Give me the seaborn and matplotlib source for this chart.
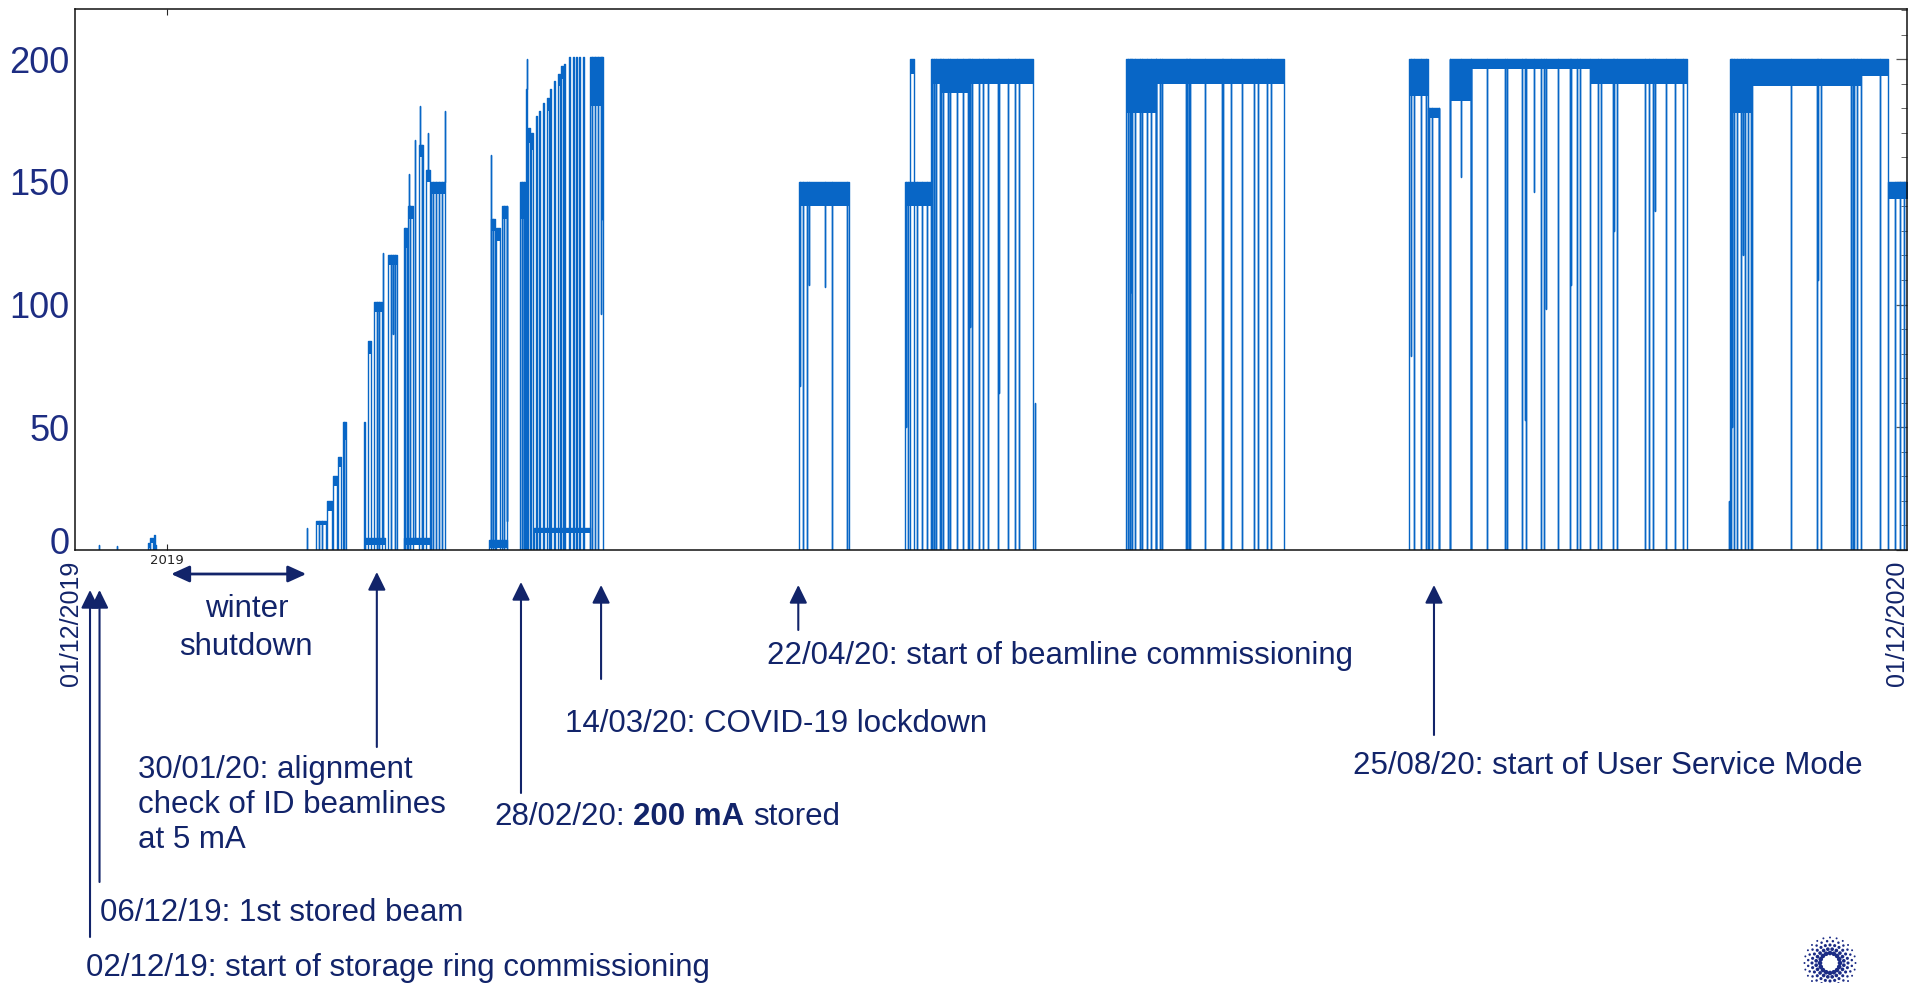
import numpy as np
import pandas as pd
import matplotlib
matplotlib.use("Agg")
import matplotlib.pyplot as plt
import matplotlib.dates as mdates
import matplotlib.transforms as mtransforms
from matplotlib.ticker import MultipleLocator, NullLocator
import seaborn as sns

# ---------------- data ----------------
T0 = pd.Timestamp("2019-12-01")
T1 = pd.Timestamp("2020-12-01")

# beam runs: start / end (days after 01/12/2019), top current, lower envelope of decay band (mA)
run_start = [14.5, 15.0, 15.7, 16.0,
             48.2, 50.4, 51.5, 52.6, 53.5,
             57.7, 58.6, 59.8, 62.6, 65.7, 66.6, 68.8, 70.1, 71.1, 83.2, 84.2, 85.3,
             88.9, 90.1, 90.5, 91.2, 92.0, 92.6, 93.4, 94.3, 94.8, 95.6, 96.5, 97.1, 97.6,
             98.6, 99.4, 100.0, 100.6, 101.4, 102.8,
             144.7, 166.8, 165.9, 171.0, 173.0, 178.4, 210.0, 216.0,
             266.6, 270.4, 274.6, 278.8, 302.7, 330.7, 335.0, 356.8, 362.2,
             57.9, 65.7, 82.7, 91.6]
run_end = [15.0, 15.6, 15.9, 16.2,
           50.1, 51.3, 52.3, 53.2, 54.1,
           58.0, 59.1, 61.3, 64.4, 66.3, 67.5, 69.6, 71.0, 74.0, 84.0, 85.0, 86.4,
           90.0, 90.4, 91.0, 91.5, 92.3, 92.9, 93.7, 94.6, 95.1, 95.9, 96.8, 97.4, 97.9,
           98.9, 99.7, 100.3, 100.9, 101.7, 105.4,
           154.6, 167.6, 171.0, 173.0, 178.4, 191.3, 216.0, 241.5,
           270.4, 272.6, 278.8, 302.7, 322.1, 335.0, 356.8, 362.2, 366.5,
           62.0, 71.0, 86.4, 102.8]
run_top = [3, 5, 6, 2,
           12, 20, 30, 38, 52,
           52, 85, 101, 120, 131, 140, 165, 155, 150, 135, 131, 140,
           150, 188, 172, 170, 177, 179, 182, 184, 188, 191, 194, 197, 198,
           201, 201, 201, 201, 201, 201,
           150, 200, 150, 200, 200, 200, 200, 200,
           200, 180, 200, 200, 200, 200, 200, 200, 150,
           5, 5, 4, 9]
run_low = [1, 3, 0, 0,
           10, 16, 26, 34, 45,
           48, 80, 97, 116, 123, 135, 160, 150, 145, 130, 126, 135,
           135, 175, 166, 163, 172, 174, 177, 179, 183, 186, 189, 192, 193,
           196, 196, 196, 196, 196, 181,
           140, 194, 140, 190, 186, 190, 178, 190,
           185, 176, 183, 196, 190, 178, 189, 193, 143,
           2, 2, 1, 7]

# excursions: beam losses (to 0 mA), partial dips and short spikes (day, mA)
exc_day = [4.8, 8.4, 46.4, 48.7, 49.4, 53.8,
           60.3, 60.8, 61.55, 63.1, 63.6, 64.0, 66.0, 66.7, 67.0, 67.95, 69.0, 69.3, 70.5,
           71.6, 72.2, 72.8, 73.4, 73.95, 83.05, 83.6, 85.8, 86.3, 89.3, 89.7, 90.3,
           103.3, 103.8, 104.4, 105.1, 105.3,
           144.9, 145.4, 146.3, 146.7, 149.9, 151.2, 154.3,
           166.0, 166.5, 168.2, 169.2, 170.3,
           171.25, 171.7, 172.1, 172.8, 173.5, 174.4, 174.8, 176.2, 177.5, 178.7, 178.9, 179.3,
           180.6, 181.5, 182.4, 184.4, 184.6, 186.4, 187.8, 188.6, 191.7,
           210.3, 210.7, 211.0, 211.2, 211.8, 212.7, 213.2, 214.1, 215.0, 215.9, 216.7, 217.2,
           221.9, 222.2, 222.5, 222.8, 225.7, 229.1, 229.4, 231.0, 233.2, 235.5, 236.4, 238.1, 239.0,
           266.9, 267.5, 268.9, 269.9, 270.5, 271.2, 272.5,
           274.7, 276.8, 278.9, 282.0, 285.7, 286.1, 289.1, 289.6, 289.8, 291.5, 292.8, 293.4, 293.8,
           296.3, 298.6, 298.8, 300.0, 300.6, 304.2, 304.9, 307.2, 307.4, 308.1, 313.6, 314.5, 315.3,
           315.6, 317.8, 319.6, 321.3,
           330.4, 330.8, 331.1, 331.5, 332.1, 332.8, 333.2, 333.7, 334.2, 334.9,
           342.8, 348.0, 348.3, 348.9, 354.9, 355.2, 355.4, 356.1, 360.7,
           363.6, 364.7, 365.5]
exc_val = [2, 1.5, 9, 0, 0, 0,
           0, 0, 121, 0, 88, 0, 0, 153, 0, 167, 181, 0, 170,
           0, 0, 0, 0, 179, 161, 0, 0, 12, 0, 0, 200,
           0, 0, 0, 96, 135,
           67, 0, 0, 108, 107, 0, 0,
           50, 0, 0, 0, 0,
           0, 0, 0, 0, 0, 0, 0, 0, 0, 0, 91, 0,
           0, 0, 0, 0, 64, 0, 0, 0, 60,
           0, 0, 105, 0, 0, 0, 0, 0, 0, 0, 0, 0,
           0, 0, 0, 0, 0, 0, 0, 0, 0, 0, 0, 0, 0,
           79, 0, 0, 0, 0, 0, 0,
           0, 152, 0, 0, 0, 0, 0, 53, 0, 146, 0, 0, 98,
           0, 0, 108, 0, 0, 0, 0, 0, 130, 0, 0, 0, 0,
           138, 0, 0, 0,
           20, 0, 50, 0, 0, 0, 120, 0, 0, 0,
           0, 0, 110, 0, 0, 0, 0, 0, 0,
           0, 0, 0]

y_ticks = [0, 50, 100, 150, 200]
y_labels = ["0", "50", "100", "150", "200"]
x_tick_day = [18.4]
x_tick_labels = ["2019"]

# annotations
arrow_day = [3.0, 4.9, 60.3, 89.1, 105.1, 144.5, 271.5]
arrow_tip_px = [590, 590, 572, 582, 585, 585, 585]
arrow_tail_px = [937, 882, 747, 793, 679, 630, 735]
shutdown_days = [19.2, 46.2]

BLUE = "#0866c6"
NAVY = "#12246a"
NAVY2 = "#1d2d82"

# ---------------- build the trace ----------------
def ts(d):
    return T0 + pd.to_timedelta(d, unit="D")

used = [False] * len(exc_day)
rows = []
unit = 0
for s, e, top, low in zip(run_start, run_end, run_top, run_low):
    ev = []
    for j, (t, v) in enumerate(zip(exc_day, exc_val)):
        if not used[j] and s < t < e:
            used[j] = True
            ev.append((t, v))
    ev.sort()
    pts = [(s, 0), (s, top)]
    for t, v in ev:
        pts += [(t, top), (t, v), (t, top)]
    pts += [(e, top), (e, 0)]
    for d, c in pts:
        rows.append((ts(d), c, unit))
    unit += 1
for j, (t, v) in enumerate(zip(exc_day, exc_val)):
    if not used[j]:
        for d, c in [(t, 0), (t, v), (t, 0)]:
            rows.append((ts(d), c, unit))
        unit += 1
df = pd.DataFrame(rows, columns=["time", "current", "unit"])

# ---------------- figure ----------------
sns.set_style("white")
plt.rcParams["font.family"] = ["Liberation Sans", "DejaVu Sans"]

W, H = 1912, 983
fig = plt.figure(figsize=(W / 100, H / 100), dpi=100)
fx = lambda px: px / W
fy = lambda py: 1 - py / H
ax = fig.add_axes([fx(75), fy(550), 1832 / W, 541 / H])

sns.lineplot(data=df, x="time", y="current", units="unit", estimator=None,
             sort=False, color=BLUE, lw=1.0, ax=ax, legend=False)
for s, e, top, low in zip(run_start, run_end, run_top, run_low):
    xs = mdates.date2num([ts(s), ts(e)])
    ax.fill_between(xs, [low, low], [top, top], color=BLUE, lw=0)

ax.set_xlim(mdates.date2num(T0), mdates.date2num(T1))
ax.set_ylim(0, 220.4)
ax.set_xlabel("")
ax.set_ylabel("")

for sp in ax.spines.values():
    sp.set_visible(True)
    sp.set_color("#111111")
    sp.set_linewidth(1.1)
    sp.set_zorder(5)

ax.set_xticks(mdates.date2num([ts(d) for d in x_tick_day]))
ax.set_xticklabels(x_tick_labels, fontfamily="DejaVu Sans")
ax.xaxis.set_minor_locator(NullLocator())
ax.tick_params(axis="x", which="major", direction="in", top=True, bottom=True,
               length=4, width=0.8, labelsize=9.5, pad=3, labelcolor="#222222")

ax.set_yticks(y_ticks)
ax.set_yticklabels(y_labels)
ax.yaxis.set_minor_locator(MultipleLocator(10))
ax.tick_params(axis="y", which="major", left=False, right=True, labelleft=True,
               direction="in", length=8, width=0.9, color="#555555",
               labelsize=26, labelcolor=NAVY2, pad=4)
ax.tick_params(axis="y", which="minor", left=False, right=True,
               direction="in", length=4, width=0.7, color="#666666")
lab0 = ax.get_yticklabels()[0]
lab0.set_transform(lab0.get_transform() +
                   mtransforms.ScaledTranslation(0, 10 / 100, fig.dpi_scale_trans))

# ---------------- annotations ----------------
trans = mtransforms.blended_transform_factory(ax.transData, fig.transFigure)
for d, ytip, ytail in zip(arrow_day, arrow_tip_px, arrow_tail_px):
    xn = mdates.date2num(ts(d))
    ax.annotate("", xy=(xn, fy(ytip)), xycoords=trans, xytext=(xn, fy(ytail)),
                textcoords=trans, annotation_clip=False,
                arrowprops=dict(arrowstyle="-|>,head_length=0.55,head_width=0.27",
                                mutation_scale=20, lw=1.5, color=NAVY,
                                shrinkA=0, shrinkB=0))
x0, x1 = mdates.date2num([ts(d) for d in shutdown_days])
ax.annotate("", xy=(x1, fy(574)), xycoords=trans, xytext=(x0, fy(574)),
            textcoords=trans, annotation_clip=False,
            arrowprops=dict(arrowstyle="<|-|>,head_length=0.55,head_width=0.25",
                            mutation_scale=20, lw=2.0, color=NAVY,
                            shrinkA=0, shrinkB=0))

FS = 22.5
def label(px, py, s, **kw):
    opts = dict(ha="left", va="center", fontsize=FS, color=NAVY)
    opts.update(kw)
    return fig.text(fx(px), fy(py), s, **opts)

label(247, 609, "winter", ha="center")
label(246, 647, "shutdown", ha="center")
label(138, 805, "30/01/20: alignment\ncheck of ID beamlines\nat 5 mA", linespacing=1.22)
label(100, 913, "06/12/19: 1st stored beam")
label(86, 968, "02/12/19: start of storage ring commissioning")
label(565, 724, "14/03/20: COVID-19 lockdown")
label(767, 656, "22/04/20: start of beamline commissioning")
label(1353, 766, "25/08/20: start of User Service Mode")

t1 = label(494, 817, "28/02/20:")
fig.canvas.draw()
r = fig.canvas.get_renderer()
bb = t1.get_window_extent(r)
sp = FS / 72 * 100 * 0.278
t2 = fig.text(bb.x1 + sp, bb.y0 + bb.height / 2, "200 mA", transform=None,
              ha="left", va="center", fontsize=FS, color=NAVY, fontweight="bold")
bb2 = t2.get_window_extent(r)
fig.text(bb2.x1 + sp, bb.y0 + bb.height / 2, "stored", transform=None,
         ha="left", va="center", fontsize=FS, color=NAVY)

fig.text(fx(71), fy(561), "01/12/2019", rotation=90, ha="center", va="top",
         fontsize=18, color=NAVY)
fig.text(fx(1897), fy(561), "01/12/2020", rotation=90, ha="center", va="top",
         fontsize=18, color=NAVY)

# ---------------- logo ----------------
lax = fig.add_axes([fx(1800), fy(993), 60 / W, 60 / H])
lax.set_xlim(-30, 30)
lax.set_ylim(-30, 30)
lax.set_aspect("equal")
lax.axis("off")
ring_r = [10.0, 14.0, 18.0, 22.0, 25.5]
ring_s = [11, 7, 5, 3.2, 2.0]
ring_n = [16, 20, 24, 24, 24]
for k, (rr, ss, nn) in enumerate(zip(ring_r, ring_s, ring_n)):
    ang = np.linspace(0, 2 * np.pi, nn, endpoint=False) + (np.pi / nn if k % 2 else 0)
    sns.scatterplot(x=rr * np.cos(ang), y=rr * np.sin(ang), s=ss, color="#1b2b85",
                    edgecolor="none", ax=lax, legend=False)

fig.savefig("out.png", dpi=100)
